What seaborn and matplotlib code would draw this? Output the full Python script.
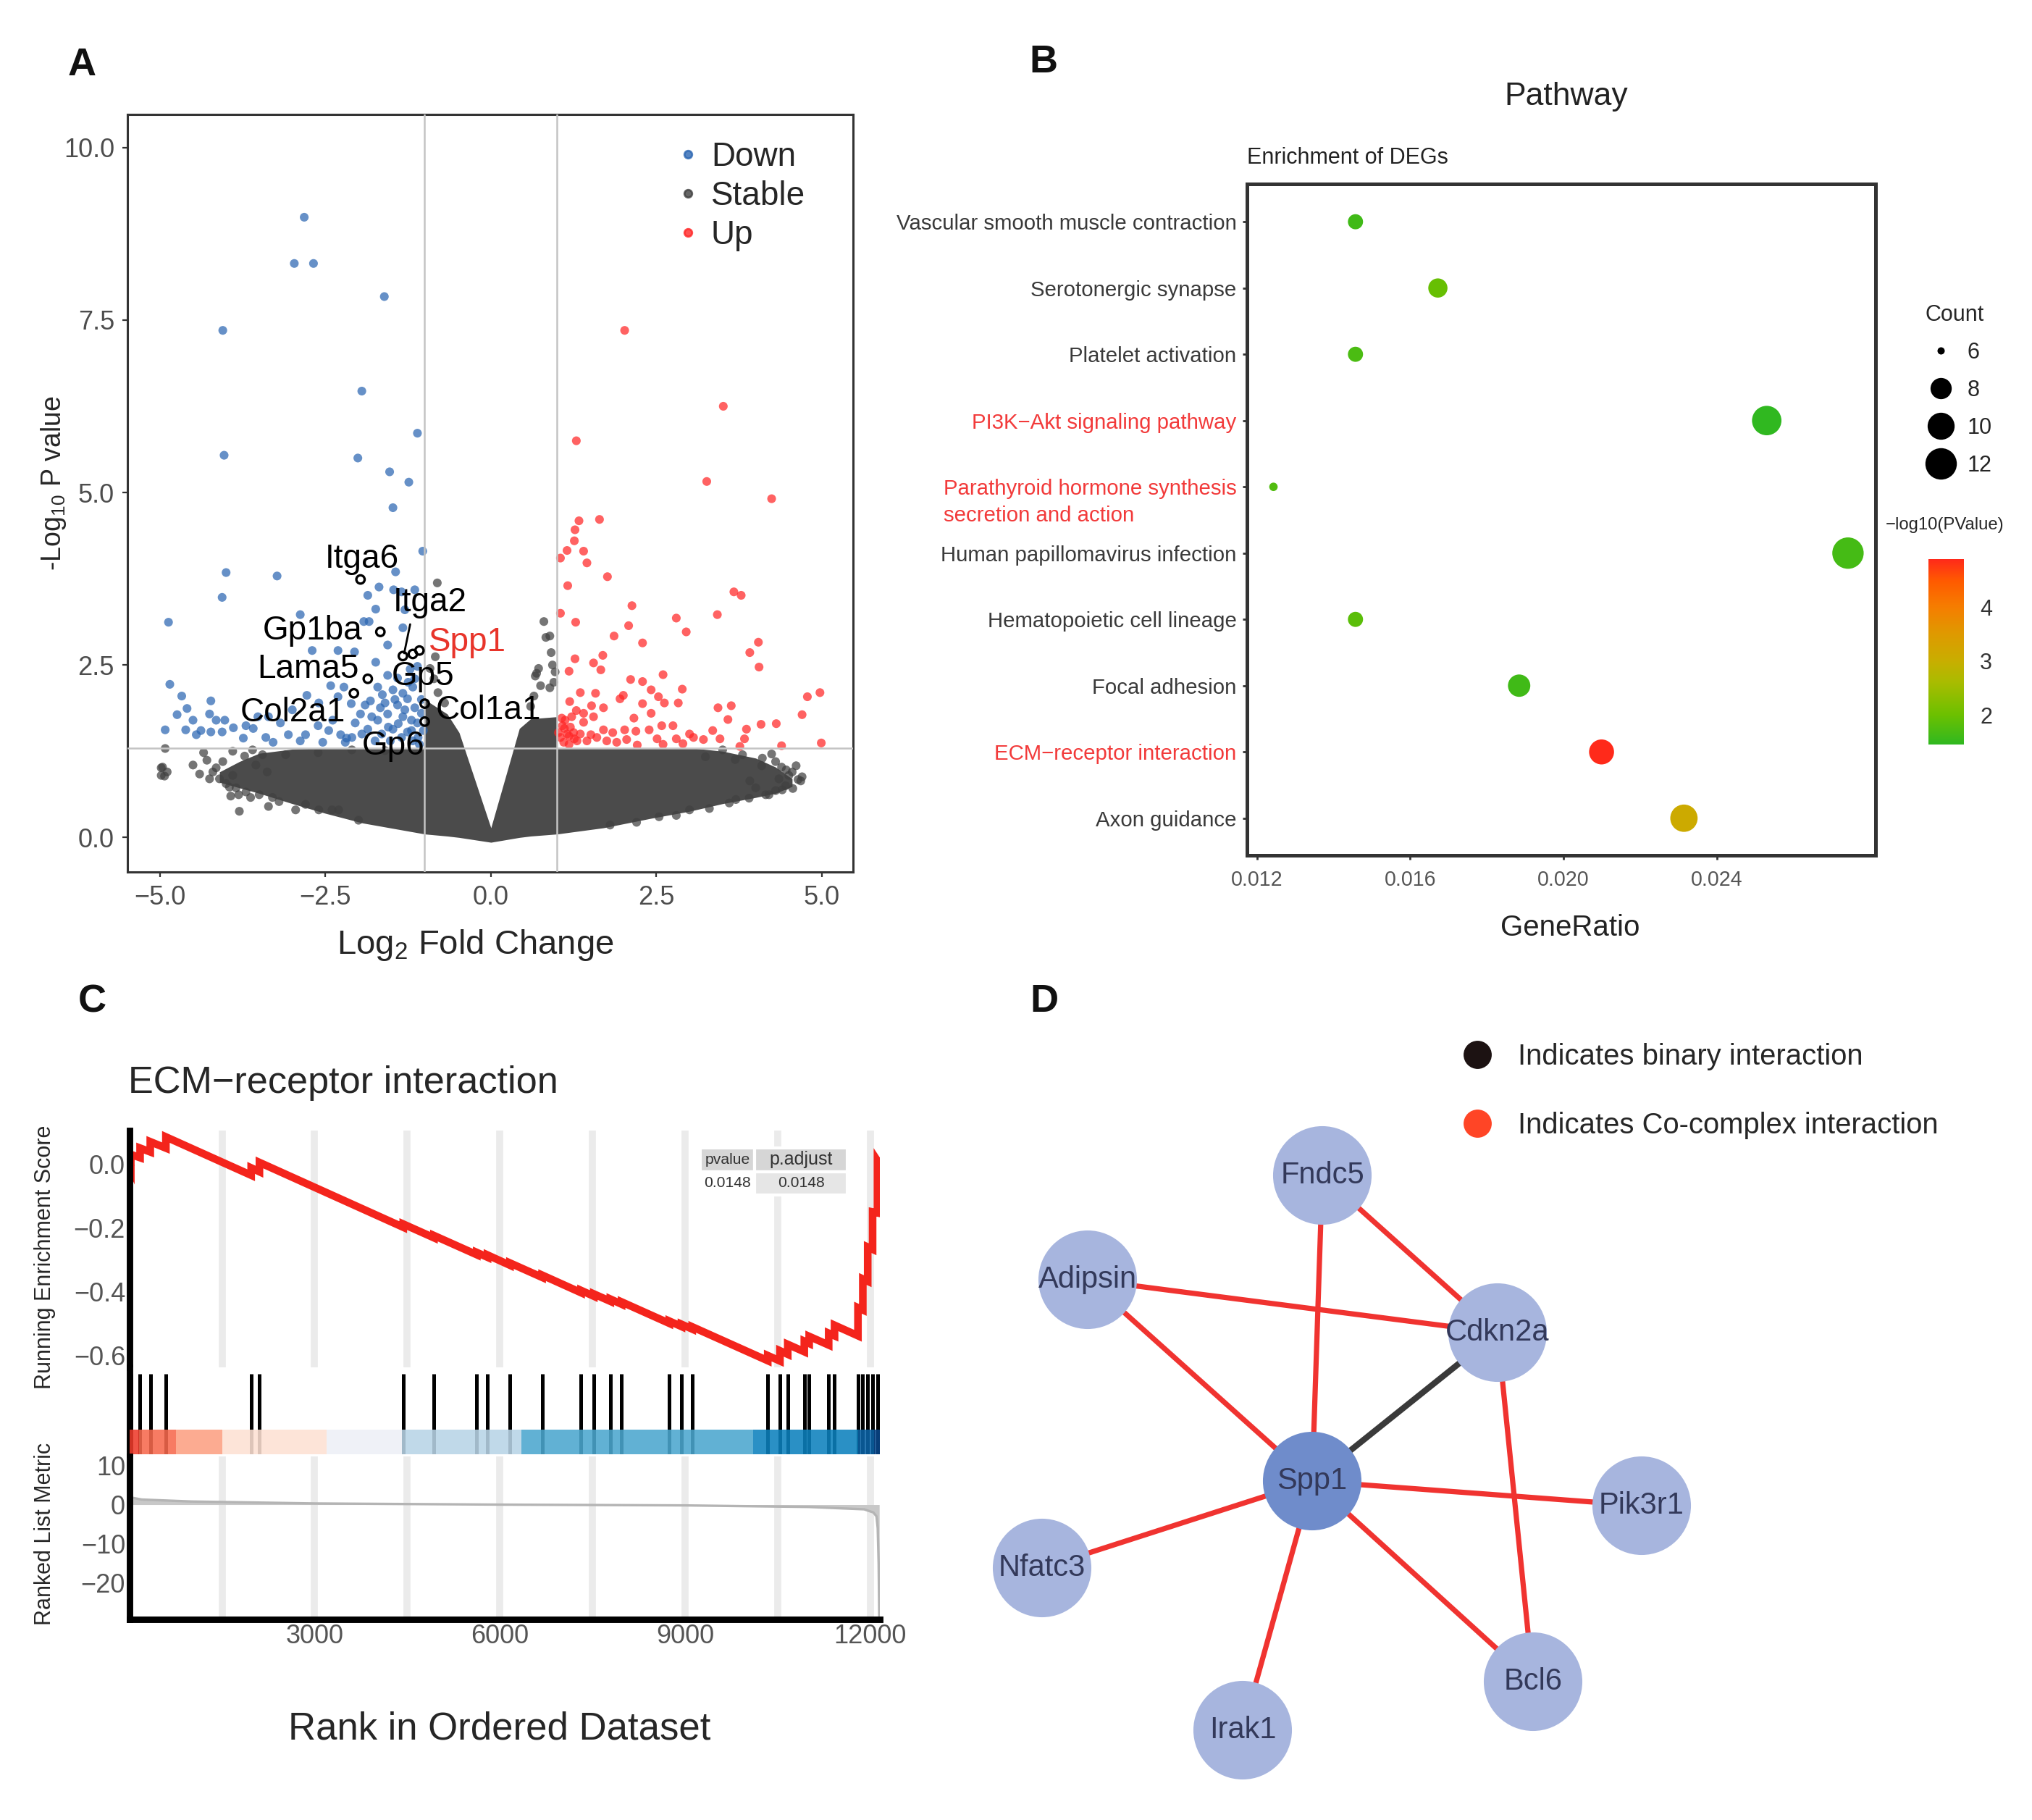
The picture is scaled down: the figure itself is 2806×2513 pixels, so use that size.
import matplotlib
matplotlib.use("Agg")
import numpy as np
import pandas as pd
import matplotlib.pyplot as plt
import matplotlib.transforms as mtransforms
import seaborn as sns
from matplotlib import font_manager
from matplotlib.cm import ScalarMappable
from matplotlib.colors import LinearSegmentedColormap, Normalize
from matplotlib.lines import Line2D
from matplotlib.ticker import FuncFormatter

# ---------------- A: volcano plot ----------------
down_x = [-2.82, -2.97, -2.68, -1.61, -4.05, -1.95, -1.11, -4.03, -2.01, -1.53, -1.24, -1.48, -1.03,
          -4.0, -3.23, -4.06, -4.87, -4.85, -1.44, -1.69, -1.86, -1.47, -1.35, -1.15, -1.74, -1.30,
          -2.88, -1.92, -1.84, -1.33, -1.56, -2.70, -2.31, -2.06, -1.74, -2.42, -2.22, -4.67, -4.23,
          -2.78, -2.31, -2.11, -1.82, -1.64, -1.48, -1.33, -1.18, -1.22, -1.11, -4.74, -4.59, -4.50,
          -4.38, -4.25, -4.15, -4.02, -3.89, -3.74, -4.92, -4.61, -4.45, -4.23, -4.06, -3.59, -3.52,
          -3.36, -3.18, -3.06, -3.29, -2.88, -2.80, -2.61, -2.39, -2.54, -2.27, -2.18, -2.05, -1.97,
          -1.86, -1.71, -1.67, -1.56, -1.48, -1.41, -1.33, -1.26, -1.15, -1.11, -1.18, -1.52, -1.75,
          -1.71, -1.56, -1.41, -1.90, -1.26, -1.40, -1.30, -1.20, -1.55, -1.60, -1.45, -1.20, -1.10,
          -1.35, -2.20, -2.10, -1.95, -1.05, -1.05, -1.15, -1.25, -2.60, -3.00, -3.40, -3.70, -2.45,
          -1.80, -1.65, -1.02, -1.08]
down_y = [8.99, 8.32, 8.32, 7.84, 7.35, 6.47, 5.86, 5.54, 5.50, 5.30, 5.15, 4.78, 4.15,
          3.84, 3.79, 3.48, 3.12, 2.22, 3.85, 3.63, 3.51, 3.59, 3.56, 3.59, 3.31, 3.30,
          3.23, 3.13, 3.13, 3.04, 2.79, 2.71, 2.71, 2.69, 2.54, 2.20, 2.18, 2.05, 1.98,
          2.06, 2.04, 1.94, 1.98, 2.07, 2.14, 2.09, 2.18, 2.44, 2.48, 1.78, 1.87, 1.70,
          1.55, 1.79, 1.70, 1.70, 1.59, 1.44, 1.56, 1.56, 1.49, 1.53, 1.53, 1.58, 1.75,
          1.75, 1.66, 1.49, 1.38, 1.40, 1.49, 1.62, 1.70, 1.38, 1.49, 1.44, 1.66, 1.79,
          1.57, 1.70, 1.88, 1.79, 1.57, 1.92, 1.75, 1.53, 1.88, 1.66, 1.40, 1.40, 1.40,
          2.18, 2.35, 2.31, 1.92, 2.01, 1.65, 1.85, 1.70, 1.60, 1.95, 2.00, 1.55, 1.45,
          1.45, 1.38, 1.45, 1.50, 2.00, 1.80, 2.30, 2.25, 1.95, 1.85, 1.45, 1.62, 1.55,
          1.75, 1.50, 1.55, 1.35]

up_x = [2.02, 3.51, 1.29, 3.26, 4.24, 1.64, 1.33, 1.27, 1.26, 1.15, 1.40, 1.05, 1.45, 1.76, 1.16,
        3.67, 3.78, 2.13, 1.05, 2.80, 3.42, 2.08, 1.28, 2.95, 1.86, 2.29, 4.04, 3.91, 4.05, 1.27,
        1.69, 1.55, 1.66, 1.18, 2.60, 2.11, 2.29, 2.89, 2.42, 1.35, 1.58, 2.00, 1.95, 2.53, 2.62,
        2.83, 1.19, 1.29, 1.52, 1.70, 2.29, 2.42, 3.43, 3.63, 4.78, 4.97, 4.70, 2.16, 1.40, 3.58,
        2.58, 2.75, 4.08, 4.31, 3.86, 3.35, 2.02, 2.19, 2.39, 1.84, 1.70, 1.51, 1.11, 1.18, 1.07,
        1.26, 2.51, 2.80, 3.06, 3.21, 3.46, 3.83, 4.39, 4.99, 2.21, 3.76, 1.05, 1.10, 1.15, 1.20,
        1.08, 1.25, 1.30, 1.12, 1.02, 1.18, 1.35, 1.45, 1.60, 1.75, 1.90, 2.05, 2.60, 2.90, 3.00,
        1.22, 1.40, 1.55]
up_y = [7.35, 6.25, 5.75, 5.16, 4.91, 4.61, 4.59, 4.46, 4.30, 4.16, 4.15, 4.05, 3.98, 3.78, 3.65,
        3.56, 3.51, 3.36, 3.25, 3.18, 3.23, 3.07, 3.12, 2.98, 2.92, 2.82, 2.83, 2.68, 2.47, 2.59,
        2.64, 2.53, 2.43, 2.41, 2.36, 2.29, 2.26, 2.15, 2.14, 2.10, 2.09, 2.06, 2.01, 2.04, 1.95,
        1.95, 1.97, 1.84, 1.91, 1.88, 1.94, 1.80, 1.88, 1.91, 2.04, 2.10, 1.78, 1.73, 1.67, 1.71,
        1.62, 1.62, 1.64, 1.65, 1.57, 1.55, 1.56, 1.54, 1.56, 1.52, 1.56, 1.49, 1.58, 1.47, 1.73,
        1.43, 1.43, 1.43, 1.45, 1.42, 1.43, 1.43, 1.33, 1.37, 1.34, 1.32, 1.45, 1.38, 1.50, 1.60,
        1.62, 1.52, 1.40, 1.70, 1.52, 1.35, 1.50, 1.40, 1.45, 1.40, 1.38, 1.42, 1.35, 1.36, 1.50,
        1.75, 1.80, 1.75]

stable_x = [-4.92, -4.98, -4.89, -4.98, -4.40, -4.34, -4.29, -4.15, -3.95, -3.93, -3.80, -3.63,
            -3.72, -3.38, -3.36, -2.95, -2.61, -0.81, -0.92, -0.86, -0.80, 0.80, 0.89, 0.91, 0.97,
            0.67, 0.89, 4.24, 4.46, 4.68, 4.61, 4.40, 4.09, 2.54, 2.80, 3.91, 3.69, 3.24, 4.39,
            4.64, 4.56, -4.96, -4.93, -3.81, -4.10, -3.55, -3.10, -2.30, -4.50, 3.30, 4.20, 4.00,
            4.50, -0.84, -0.70, 0.93, 0.95,
            -4.20, -4.05, -3.90, -3.85, -3.70, -3.50, -3.45, -3.20, -2.80, -2.60, -2.00, -3.90,
            -3.60, -2.10, -1.60, 4.45, 4.30, 4.15, 3.90, 3.60, 3.50, 3.80, 4.10, 4.30, 4.55, 4.70,
            3.00, 2.20, 1.80, -4.25, -4.0, -3.3, -2.4, 3.7, 4.35,
            0.69, 0.75, 0.83, 0.72, 0.60, 0.65]
stable_y = [1.29, 1.01, 0.95, 0.90, 0.92, 1.23, 1.12, 1.01, 0.73, 0.60, 0.38, 0.58,
            1.18, 0.95, 0.45, 0.40, 1.23, 3.69, 2.45, 2.30, 2.10, 3.13, 2.92, 2.68, 2.40,
            2.34, 2.17, 1.21, 0.98, 0.82, 1.04, 0.69, 1.04, 0.30, 0.32, 0.82, 1.13, 1.17, 1.02,
            0.84, 0.71, 1.02, 0.89, 0.62, 0.85, 1.05, 1.20, 0.40, 1.05, 0.42, 0.62, 0.72,
            0.90, 2.62, 1.95, 2.50, 2.25,
            0.95, 1.10, 0.90, 0.72, 0.66, 0.62, 1.20, 0.52, 0.48, 0.40, 0.25, 1.25,
            1.27, 1.27, 1.26, 0.75, 0.68, 0.62, 0.57, 0.50, 1.27, 1.20, 1.15, 1.10, 0.95, 0.88,
            0.40, 0.22, 0.18, 0.85, 0.78, 0.58, 0.40, 0.55, 0.85,
            2.38, 2.20, 2.90, 2.45, 1.90, 2.05]

# outline of the solid mass of "Stable" genes
cloud_x = [-4.1, -3.8, -3.5, -3.0, -2.5, -1.94, -1.0, -1.0, -0.66, -0.48, 0.0, 0.43, 0.6, 1.0,
           1.0, 1.7, 2.43, 3.0, 3.5, 4.0, 4.3, 4.55]
cloud_top = [0.95, 1.1, 1.22, 1.28, 1.3, 1.3, 1.3, 2.0, 1.79, 1.52, 0.14, 1.58, 1.72, 1.75,
             1.3, 1.3, 1.3, 1.3, 1.25, 1.15, 1.02, 0.85]
cloud_bot = [0.8, 0.72, 0.64, 0.49, 0.35, 0.21, 0.05, 0.05, 0.02, 0.0, -0.07, 0.0, 0.02, 0.05,
             0.05, 0.14, 0.28, 0.38, 0.49, 0.58, 0.64, 0.74]

gene_names = ["Itga6", "Gp1ba", "Itga2", "Gp5", "Spp1", "Lama5", "Col2a1", "Col1a1", "Gp6"]
gene_x = [-1.97, -1.67, -1.33, -1.18, -1.08, -1.86, -2.07, -1.0, -1.0]
gene_y = [3.74, 2.98, 2.63, 2.66, 2.71, 2.30, 2.09, 1.94, 1.68]
gene_label_x = [-1.95, -2.69, -0.92, -1.03, -0.36, -2.76, -2.99, -0.04, -1.48]
gene_label_y = [4.04, 3.00, 3.41, 2.33, 2.83, 2.44, 1.81, 1.84, 1.33]

# ---------------- B: KEGG enrichment ----------------
pathways = ["Vascular smooth muscle contraction", "Serotonergic synapse", "Platelet activation",
            "PI3K\u2212Akt signaling pathway", "Parathyroid hormone synthesis\nsecretion and action",
            "Human papillomavirus infection", "Hematopoietic cell lineage", "Focal adhesion",
            "ECM\u2212receptor interaction", "Axon guidance"]
gene_ratio = [0.01457, 0.01672, 0.01457, 0.02530, 0.01243, 0.02742, 0.01457, 0.01884, 0.02099, 0.02314]
gene_count = [7, 8, 7, 12, 6, 13, 7, 9, 10, 11]
neg_log_p = [1.6, 1.95, 1.7, 1.45, 1.75, 1.65, 1.85, 1.6, 4.9, 3.1]
highlighted = ["PI3K\u2212Akt signaling pathway", "Parathyroid hormone synthesis\nsecretion and action",
               "ECM\u2212receptor interaction"]

# ---------------- C: GSEA ECM-receptor interaction ----------------
hit_rank = [24, 174, 339, 592, 1973, 2107, 4436, 4933, 5627, 5801, 6164, 6685, 7316, 7522, 7790,
            7972, 8745, 8942, 9116, 10339, 10537, 10663, 10931, 11010, 11326, 11421, 11800, 11879,
            11958, 12037, 12116]
es_before = [-0.01, 0.02, 0.038, 0.05, -0.035, -0.024, -0.198, -0.231, -0.284, -0.292, -0.317,
             -0.355, -0.403, -0.414, -0.430, -0.439, -0.499, -0.509, -0.517, -0.616, -0.617, -0.596,
             -0.588, -0.562, -0.567, -0.538, -0.538, -0.457, -0.367, -0.267, -0.153]
es_after = [0.03, 0.05, 0.07, 0.085, -0.012, 0.005, -0.188, -0.224, -0.277, -0.285, -0.310,
            -0.348, -0.396, -0.407, -0.423, -0.432, -0.492, -0.502, -0.510, -0.600, -0.585, -0.565,
            -0.555, -0.540, -0.530, -0.505, -0.450, -0.360, -0.260, -0.150, 0.01]
metric_rank = [0, 30, 200, 1000, 3000, 6000, 9000, 11000, 11900, 12050, 12100, 12120, 12135, 12145]
metric_value = [3.0, 1.8, 1.3, 0.8, 0.3, 0.0, -0.2, -0.6, -1.2, -2.0, -3.0, -6.0, -15.0, -29.0]
band_edges = [0, 158, 750, 1500, 3197, 4420, 6354, 10103, 11800, 12060, 12150]
gsea_pvalue = "0.0148"
gsea_padjust = "0.0148"

# ---------------- D: interaction network ----------------
node_names = ["Fndc5", "Adipsin", "Cdkn2a", "Spp1", "Pik3r1", "Nfatc3", "Bcl6", "Irak1"]
node_x = [1826, 1502, 2068, 1812, 2267, 1439, 2117, 1716]
node_y = [1623, 1767, 1840, 2045, 2079, 2165, 2322, 2389]
edge_source = ["Fndc5", "Fndc5", "Adipsin", "Adipsin", "Spp1", "Cdkn2a", "Spp1", "Spp1", "Spp1", "Spp1"]
edge_target = ["Spp1", "Cdkn2a", "Cdkn2a", "Spp1", "Cdkn2a", "Bcl6", "Pik3r1", "Nfatc3", "Irak1", "Bcl6"]
edge_kind = ["co", "co", "co", "co", "binary", "co", "co", "co", "co", "co"]


sns.set_theme(style="white")
plt.rcParams["font.family"] = ["Liberation Sans", "DejaVu Sans"]
plt.rcParams["mathtext.fontset"] = "custom"
plt.rcParams["mathtext.rm"] = "Liberation Sans"
plt.rcParams["mathtext.it"] = "Liberation Sans:italic"
plt.rcParams["mathtext.bf"] = "Liberation Sans:bold"

installed = {f.name for f in font_manager.fontManager.ttflist}
if "Liberation Sans Narrow" in installed:
    NARROW, NARROW_SIZE = ["Liberation Sans Narrow", "Liberation Sans"], 13
else:
    NARROW, NARROW_SIZE = ["Liberation Sans", "DejaVu Sans"], 10.6

W, H = 2806, 2513


def fx(px):
    return px / W


def fy(py):
    return 1 - py / H


def minus_fmt(fmt):
    return FuncFormatter(lambda v, p: (fmt % v).replace("-", "\u2212"))


def plot_volcano(fig):
    ax = fig.add_axes([fx(176), fy(1204), fx(1178) - fx(176), fy(158) - fy(1204)])
    ax.fill_between(cloud_x, cloud_bot, cloud_top, color="#4B4B4B", lw=0, zorder=1)
    df = pd.concat([
        pd.DataFrame({"fc": down_x, "p": down_y, "group": "Down"}),
        pd.DataFrame({"fc": stable_x, "p": stable_y, "group": "Stable"}),
        pd.DataFrame({"fc": up_x, "p": up_y, "group": "Up"}),
    ])
    pal = {"Down": "#2B66B2", "Stable": "#404040", "Up": "#FF2626"}
    sns.scatterplot(data=df, x="fc", y="p", hue="group", palette=pal, s=19, alpha=0.72,
                    linewidth=0, legend=False, ax=ax, zorder=2)
    for v in (-1, 1):
        ax.axvline(v, color="#C4C4C4", lw=0.9, zorder=3)
    ax.axhline(1.3, color="#C4C4C4", lw=0.9, zorder=3)

    ax.scatter(gene_x, gene_y, s=17, facecolors="none", edgecolors="black", linewidths=1.2, zorder=4)
    for name, lx, ly in zip(gene_names, gene_label_x, gene_label_y):
        ax.text(lx, ly, name, ha="center", va="center", fontsize=16.5,
                color="#E8342A" if name == "Spp1" else "black", zorder=5)
    ax.plot([-1.22, -1.31], [3.09, 2.67], color="black", lw=1, zorder=4)

    ax.set_xlim(-5.49, 5.47)
    ax.set_ylim(-0.5, 10.48)
    ax.set_xticks([-5, -2.5, 0, 2.5, 5])
    ax.set_yticks([0, 2.5, 5, 7.5, 10])
    ax.xaxis.set_major_formatter(minus_fmt("%.1f"))
    ax.yaxis.set_major_formatter(minus_fmt("%.1f"))
    ax.tick_params(axis="both", direction="out", length=2.5, width=0.8, color="#333333",
                   labelcolor="#4D4D4D", labelsize=13, pad=4, bottom=True, left=True)
    for sp in ax.spines.values():
        sp.set_color("#333333")
        sp.set_linewidth(1.1)
    ax.set(xlabel="", ylabel="")

    handles = [Line2D([], [], marker="o", ls="", color=pal[g], markersize=3.8, alpha=0.8)
               for g in ["Down", "Stable", "Up"]]
    ax.legend(handles, ["Down", "Stable", "Up"], loc="upper left", bbox_to_anchor=(0.7585, 0.9644),
              frameon=False, fontsize=16.5, handlelength=0.6, handletextpad=0.4, labelspacing=0.22,
              borderpad=0, borderaxespad=0)
    fig.text(fx(656), fy(1305), r"Log$_2$ Fold Change", ha="center", va="center", fontsize=17)
    fig.text(fx(74), fy(667), r"-Log$_{10}$ P value", ha="center", va="center", fontsize=13.5,
             rotation=90)


def size_pt(c):
    return 2.6 * (1 + 5 * np.sqrt((c - 6) / 7))


def plot_enrichment(fig):
    ax = fig.add_axes([fx(1722), fy(1181), fx(2590) - fx(1722), fy(254) - fy(1181)])
    cmap = LinearSegmentedColormap.from_list(
        "gr", [(0.0, "#30B820"), (0.159, "#6CC000"), (0.333, "#A8BC00"), (0.449, "#C8AE00"),
               (0.594, "#DE9A00"), (0.739, "#F57E00"), (0.884, "#FF5A00"), (1.0, "#FF2A1A")])
    df = pd.DataFrame({"Pathway": pathways, "GeneRatio": gene_ratio, "Count": gene_count,
                       "p": neg_log_p})
    sizes = {c: max(size_pt(c), 4.2) ** 2 for c in sorted(set(gene_count))}
    sns.scatterplot(data=df, x="GeneRatio", y="Pathway", hue="p", palette=cmap, hue_norm=(1.45, 4.9),
                    size="Count", sizes=sizes, linewidth=0, legend=False, ax=ax, zorder=3)
    ax.set_xlim(0.01174, 0.02814)
    ax.set_ylim(9.56, -0.57)
    ax.set_xticks([0.012, 0.016, 0.020, 0.024])
    ax.set_xticklabels(["0.012", "0.016", "0.020", "0.024"])
    ax.set_yticks(range(len(pathways)))
    ax.set_yticklabels([p.split("\n")[0] for p in pathways])
    ax.set(xlabel="", ylabel="")
    ax.tick_params(axis="both", direction="out", length=2.2, width=1, color="#333333",
                   bottom=True, left=True)
    ax.tick_params(axis="x", labelsize=10.3, labelcolor="#555555", pad=5)
    ax.tick_params(axis="y", pad=3)
    for lab, p in zip(ax.get_yticklabels(), pathways):
        lab.set_fontfamily(NARROW)
        lab.set_fontsize(NARROW_SIZE)
        lab.set_color("#F23A3A" if p in highlighted else "#3A3A3A")
    for sp in ax.spines.values():
        sp.set_color("#333333")
        sp.set_linewidth(1.8)

    ax.text(0.0, 1.039, "Enrichment of DEGs", transform=ax.transAxes, ha="left", va="center",
            fontsize=11, color="#222222")
    fig.text(fx(2163), fy(133), "Pathway", ha="center", va="center", fontsize=16, color="#222222")
    fig.text(fx(2168), fy(1281), "GeneRatio", ha="center", va="center", fontsize=14.5,
             color="#222222")

    handles = [Line2D([], [], marker="o", ls="", color="black", markersize=size_pt(c))
               for c in [6, 8, 10, 12]]
    ax.legend(handles, ["6", "8", "10", "12"], title="Count", loc="upper left",
              bbox_to_anchor=(1.079, 0.821), frameon=False, fontsize=11, title_fontsize=11,
              handlelength=1.4, handletextpad=0.5, labelspacing=0.72, borderpad=0,
              borderaxespad=0, alignment="left")

    cax = fig.add_axes([fx(2663), fy(1028), fx(2712) - fx(2663), fy(772) - fy(1028)])
    sm = ScalarMappable(norm=Normalize(1.45, 4.9), cmap=cmap)
    cb = fig.colorbar(sm, cax=cax, ticks=[2, 3, 4])
    cb.outline.set_visible(False)
    cax.tick_params(direction="in", color="white", length=5, width=1, left=True, right=True,
                    labelsize=11, labelcolor="#333333", pad=8)
    fig.text(fx(2686), fy(725), "\u2212log10(PValue)", ha="center", va="center", fontsize=8.6)
    return ax


def plot_gsea(fig):
    left, width = fx(178.6), fx(1214.6) - fx(178.6)
    ax_es = fig.add_axes([left, fy(1888), width, fy(1561) - fy(1888)])
    ax_hit = fig.add_axes([left, fy(2008), width, fy(1888) - fy(2008)])
    ax_rk = fig.add_axes([left, fy(2236), width, fy(2011) - fy(2236)])

    es_x = [0] + [r for r in hit_rank for _ in range(2)] + [12150]
    es_y = [0.0] + [v for pair in zip(es_before, es_after) for v in pair] + [0.0]

    for ax in (ax_es, ax_hit, ax_rk):
        ax.set_xlim(0, 12150)
        for sp in ax.spines.values():
            sp.set_visible(False)
        ax.spines["left"].set_visible(True)
        ax.spines["left"].set_color("black")
        ax.spines["left"].set_linewidth(3.2)
    for ax in (ax_es, ax_rk):
        ax.set_xticks([3000, 6000, 9000, 12000])
        ax.set_xticks([1500, 4500, 7500, 10500], minor=True)
        ax.grid(axis="x", which="both", color="#EBEBEB", lw=3.5)
        ax.set_axisbelow(True)
        ax.tick_params(axis="both", which="both", length=0, labelsize=13, labelcolor="#555555",
                       pad=2)

    ax_es.plot(es_x, es_y, color="#F4241C", lw=3.8, solid_joinstyle="miter")
    ax_es.set_ylim(-0.637, 0.105)
    ax_es.set_yticks([0.0, -0.2, -0.4, -0.6])
    ax_es.yaxis.set_major_formatter(minus_fmt("%.1f"))
    ax_es.tick_params(axis="x", labelbottom=False)

    tbl = ax_es.table(cellText=[[gsea_pvalue, gsea_padjust]], colLabels=["pvalue", "p.adjust"],
                      colWidths=[0.37, 0.63], cellLoc="center", bbox=[0.761, 0.728, 0.196, 0.198])
    tbl.set_zorder(5)
    tbl.auto_set_font_size(False)
    tbl.set_fontsize(7.6)
    for (r, c), cell in tbl.get_celld().items():
        cell.set_edgecolor("white")
        cell.set_linewidth(1.5)
        cell.PAD = 0.02
        cell.get_text().set_color("#333333")
        if r == 0:
            cell.set_facecolor("#D6D6D6")
            if c == 1:
                cell.get_text().set_fontsize(9)
        else:
            cell.set_facecolor("#FFFFFF" if c == 0 else "#E6E6E6")

    ax_hit.vlines(hit_rank, 0, 0.925, color="black", lw=1.8, zorder=2)
    band_colors = ["#EE3B2B", "#F6694D", "#FCA082", "#FDE1D3", "#EDF0F7", "#B8D4E6", "#4BA7CF",
                   "#0C81BD", "#0B63A6", "#08468A"]
    for x0, x1, col in zip(band_edges[:-1], band_edges[1:], band_colors):
        ax_hit.axvspan(x0, x1, ymin=0, ymax=0.283, color=col, lw=0, alpha=0.88, zorder=3)
    ax_hit.set_ylim(0, 1)
    ax_hit.set_xticks([])
    ax_hit.set_yticks([])

    ax_rk.fill_between(metric_rank, 0, metric_value, color="#C8C8C8", lw=0)
    ax_rk.plot(metric_rank, metric_value, color="#B4B4B4", lw=1.2)
    ax_rk.set_ylim(-29.3, 12.3)
    ax_rk.set_yticks([10, 0, -10, -20])
    ax_rk.yaxis.set_major_formatter(minus_fmt("%d"))
    ax_rk.spines["bottom"].set_visible(True)
    ax_rk.spines["bottom"].set_color("black")
    ax_rk.spines["bottom"].set_linewidth(3.2)

    fig.text(fx(177), fy(1496), "ECM\u2212receptor interaction", ha="left", va="center",
             fontsize=18.8)
    fig.text(fx(62), fy(1736), "Running Enrichment Score", ha="center", va="center", fontsize=11,
             rotation=90)
    fig.text(fx(62), fy(2118), "Ranked List Metric", ha="center", va="center", fontsize=11,
             rotation=90)
    fig.text(fx(690), fy(2387), "Rank in Ordered Dataset", ha="center", va="center", fontsize=19)


def plot_network(fig):
    ax = fig.add_axes([fx(1300), fy(2513), fx(2806) - fx(1300), fy(1350) - fy(2513)])
    pos = dict(zip(node_names, zip(node_x, node_y)))
    for s, t, k in zip(edge_source, edge_target, edge_kind):
        (x1, y1), (x2, y2) = pos[s], pos[t]
        ax.plot([x1, x2], [y1, y2], color="#F03330" if k == "co" else "#3A3A3A",
                lw=2.6 if k == "co" else 3.0, zorder=1)
    df = pd.DataFrame({"x": node_x, "y": node_y, "hub": [n == "Spp1" for n in node_names]})
    sns.scatterplot(data=df, x="x", y="y", hue="hub", palette={False: "#A7B5DE", True: "#6F8CCB"},
                    s=2400, linewidth=0, legend=False, ax=ax, zorder=2)
    for n, x, y in zip(node_names, node_x, node_y):
        ax.text(x, y, n, ha="center", va="center", fontsize=15, color="#33395A", zorder=3)
    ax.set_xlim(1300, 2806)
    ax.set_ylim(2513, 1350)
    ax.axis("off")

    handles = [Line2D([], [], marker="o", ls="", markersize=14, markerfacecolor=c, markeredgewidth=0)
               for c in ["#1C1212", "#FF4526"]]
    ax.legend(handles, ["Indicates binary interaction", "Indicates Co-complex interaction"],
              loc="upper left", bbox_to_anchor=(0.4784, 0.9226), frameon=False, fontsize=14.4,
              handlelength=1.0, handletextpad=0.88, labelspacing=1.42, borderpad=0, borderaxespad=0)


fig = plt.figure(figsize=(W / 200, H / 200), dpi=200)
plot_volcano(fig)
axB = plot_enrichment(fig)
plot_gsea(fig)
plot_network(fig)

for letter, px, py in [("A", 113, 90), ("B", 1441, 86), ("C", 127, 1383), ("D", 1442, 1383)]:
    fig.text(fx(px), fy(py), letter, ha="center", va="center", fontsize=19.5, fontweight="bold",
             color="#111111")

# second line of the wrapped pathway label, aligned with the first line
fig.canvas.draw()
lab = axB.get_yticklabels()[4]
bb = lab.get_window_extent()
x_ax = axB.transAxes.inverted().transform((bb.x0, bb.y0))[0]
trans = mtransforms.blended_transform_factory(axB.transAxes, axB.transData)
axB.text(x_ax, 4.43, pathways[4].split("\n")[1], transform=trans, ha="left", va="center",
         fontsize=NARROW_SIZE, family=NARROW, color="#F23A3A")

fig.savefig("out.png", dpi=200)
